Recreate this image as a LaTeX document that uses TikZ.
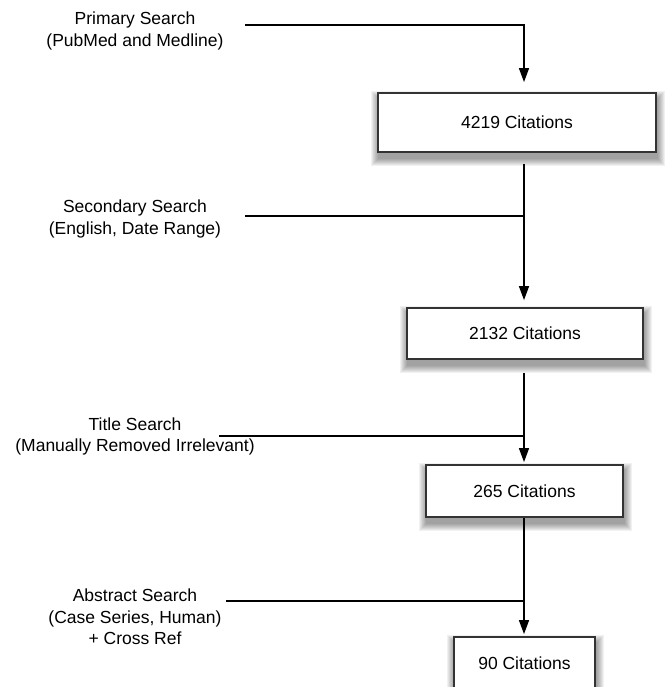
\documentclass[tikz,border=0pt]{standalone}
\usepackage{fontspec}
\setmainfont{Liberation Sans}
\usetikzlibrary{arrows.meta,backgrounds}
\tikzset{
  cbox/.style={draw=black!80, line width=1.8pt, fill=white, minimum width=#1, inner sep=0pt,
    font=\fontsize{17.5}{21.5}\selectfont},
  lbl/.style={align=center, inner sep=0pt, font=\fontsize{17.5}{21.5}\selectfont},
  conn/.style={line width=1.4pt, draw=black},
  arr/.style={conn, -{Triangle[length=14pt,width=10pt]}},
}
\begin{document}
\begin{tikzpicture}[x=1pt,y=-1pt]
\useasboundingbox (0,0) rectangle (664,687);
\clip (0,0) rectangle (664,687);

% boxes
\node[cbox=278pt, minimum height=59pt] (b1) at (517,122.5) {4219 Citations};
\node[cbox=236pt, minimum height=51pt] (b2) at (525,333.5) {2132 Citations};
\node[cbox=197pt, minimum height=52pt] (b3) at (524.5,491) {265 Citations};
\node[cbox=141pt, minimum height=52pt] (b4) at (524.5,663) {90 Citations};

% shadows
\begin{scope}[on background layer]
\foreach \n in {b1,b2,b3,b4}{
  \foreach \e in {0,...,7}{
    \fill[black,opacity=0.055]
      ([shift={({(1-\e)*1pt},{(-6-\e)*1pt})}]\n.south west) rectangle
      ([shift={({(1+\e)*1pt},{(-6+\e)*1pt})}]\n.north east);
  }
}
\end{scope}

% labels
\node[lbl] (l1) at (135,31) {Primary Search\\(PubMed and Medline)};
\node[lbl] (l2) at (135,219) {Secondary Search\\(English, Date Range)};
\node[lbl] (l3) at (135,436.5) {Title Search\\(Manually Removed Irrelevant)};
\node[lbl] (l4) at (135,617) {Abstract Search\\(Case Series, Human)\\+ Cross Ref};

% junction coordinates
\coordinate (s1) at (245,25);  \coordinate (k1) at (524,25);
\coordinate (s2) at (245,216); \coordinate (k2) at (524,216);
\coordinate (s3) at (219,436); \coordinate (k3) at (524,436);
\coordinate (s4) at (226,601); \coordinate (k4) at (524,601);

% connectors
\draw[arr, shorten >=10pt] (s1) -- (k1) -- (k1 |- b1.north);
\draw[conn] (s2) -- (k2);
\draw[arr, shorten <=11pt, shorten >=7pt] (k2 |- b1.south) -- (k2 |- b2.north);
\draw[conn] (s3) -- (k3);
\draw[arr, shorten <=13pt, shorten >=2pt] (k3 |- b2.south) -- (k3 |- b3.north);
\draw[conn] (s4) -- (k4);
\draw[arr, shorten >=2pt] (k4 |- b3.south) -- (k4 |- b4.north);
\end{tikzpicture}
\end{document}
